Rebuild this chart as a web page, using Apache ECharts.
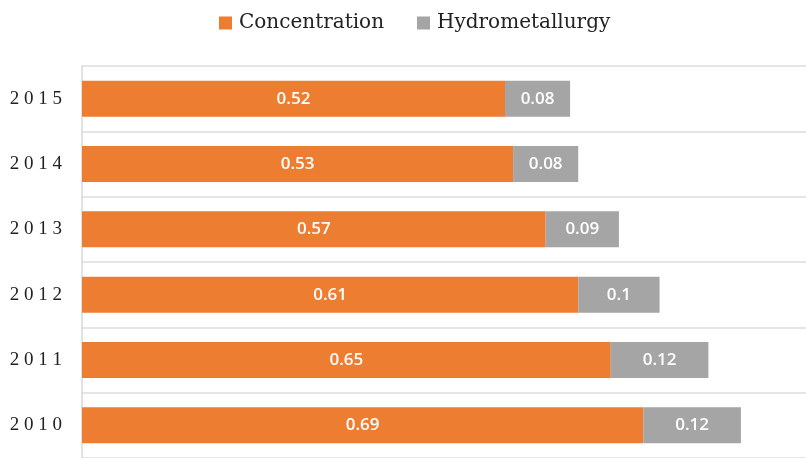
<!DOCTYPE html>
<html>
<head>
<meta charset="utf-8">
<script src="https://cdn.jsdelivr.net/npm/echarts@6/dist/echarts.min.js"></script>
<style>
  html, body { margin: 0; padding: 0; background: #fff; }
  #chart { width: 806px; height: 458px; }
</style>
</head>
<body>
<div id="chart"></div>
<script>
var years = ["2010", "2011", "2012", "2013", "2014", "2015"];
var concentration = [0.69, 0.65, 0.61, 0.57, 0.53, 0.52];
var hydrometallurgy = [0.12, 0.12, 0.1, 0.09, 0.08, 0.08];

var myChart = echarts.init(document.getElementById("chart"));
var font = "'Liberation Serif', serif";

var barLabel = {
  show: true,
  position: "inside",
  color: "#fff",
  fontSize: 17,
  fontWeight: 600,
  fontFamily: "'Open Sans', sans-serif",
};

var option = {
  animation: false,
  legend: {
    top: 8,
    left: 214,
    itemWidth: 13,
    itemHeight: 13,
    itemGap: 33,
    icon: "rect",
    textStyle: {
      color: "#222",
      fontSize: 20,
      fontFamily: "'DejaVu Serif', serif",
      padding: [0, 0, 0, 2],
    },
    data: ["Concentration", "Hydrometallurgy"],
  },
  grid: {
    top: 66,
    left: 82,
    right: 0,
    height: 395,
  },
  xAxis: {
    type: "value",
    min: 0,
    max: 0.89,
    show: false,
  },
  yAxis: {
    type: "category",
    data: years,
    axisLine: { show: true, lineStyle: { color: "#d9d9d9", width: 1.5 } },
    axisTick: { show: false },
    splitLine: { show: true, lineStyle: { color: "#dcdcdc", width: 1.5 } },
    axisLabel: {
      color: "#222",
      fontSize: 19,
      fontFamily: font,
      margin: 20,
      formatter: function (v) {
        return v.split("").join(" ");
      },
    },
  },
  series: [
    {
      name: "Concentration",
      type: "bar",
      stack: "total",
      barWidth: 36,
      itemStyle: { color: "#ED7D31" },
      label: barLabel,
      data: concentration,
    },
    {
      name: "Hydrometallurgy",
      type: "bar",
      stack: "total",
      barWidth: 36,
      itemStyle: { color: "#A5A5A5" },
      label: barLabel,
      data: hydrometallurgy,
    },
  ],
};

myChart.setOption(option);
</script>
</body>
</html>
